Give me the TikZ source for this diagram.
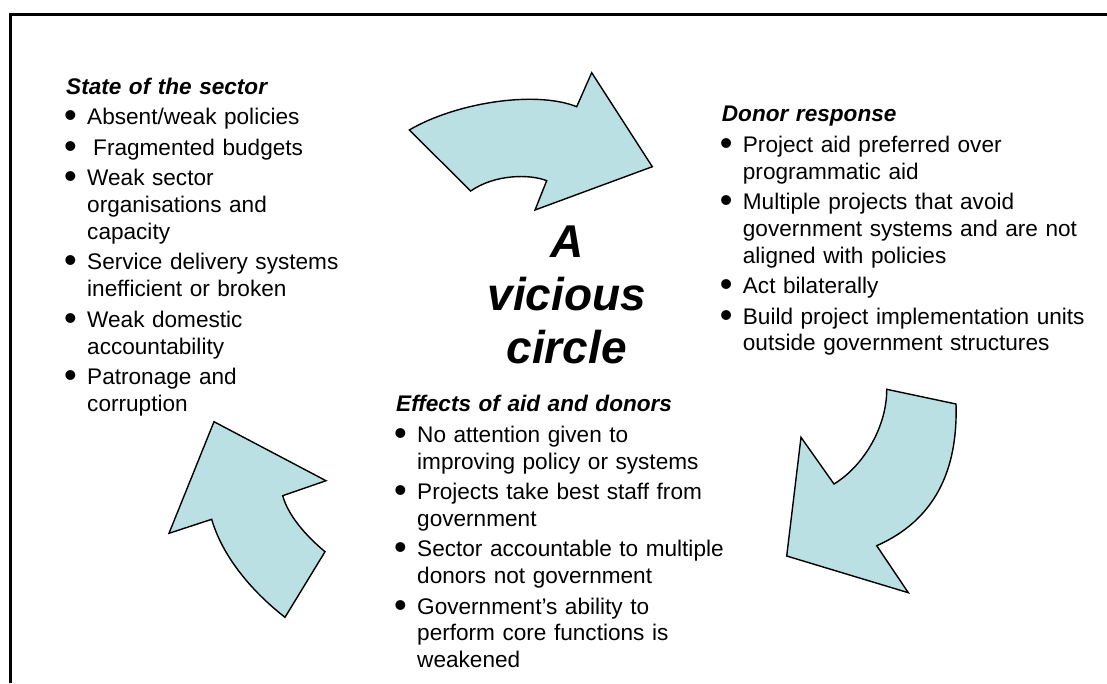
\documentclass[tikz,border=0pt]{standalone}
\usepackage{fontspec}
\setmainfont{Liberation Sans}
\definecolor{arrowfill}{RGB}{186,224,227}
\tikzset{
  bigarrow/.style={fill=arrowfill, draw=black, line width=1.4pt, line join=miter},
  column/.style={anchor=base west, inner sep=0pt, text width=400pt,
    font=\fontsize{22.6}{26.8}\selectfont},
  frameline/.style={line width=3.3pt},
  motto/.style={anchor=base, inner sep=0pt, text width=300pt, align=center,
    font=\fontsize{46}{52.9}\selectfont\bfseries\itshape}
}
\newcommand\hd[1]{\textbf{\textit{#1}}}
\newcommand\bitem[1]{\par\hangindent=21pt\hangafter=1\noindent
  \makebox[21pt][l]{\hspace{-2pt}\raisebox{-3pt}{\scalebox{1.6}{\textbullet}}}#1}
\begin{document}
\begin{tikzpicture}[x=1pt,y=-1pt]
\useasboundingbox (0,0) rectangle (1107,683);
\fill[white] (0,0) rectangle (1107,683);
% frame (cropped on right and bottom)
\draw[frameline] (10.7,683) -- (10.7,14.2) -- (1107,14.2);

% top arrow (left -> right)
\draw[bigarrow] (409.3,130) .. controls (455,103) and (535,90) .. (576.7,106.7)
  -- (591.7,72.7) -- (652.3,166.7) -- (535,210) -- (546.7,180.7)
  .. controls (530,174) and (495,174) .. (470.7,191) -- cycle;

% right arrow (down-left)
\draw[bigarrow] (886.7,389.3) -- (956,404)
  .. controls (958,470) and (935,520) .. (876.7,545.7)
  -- (908.3,592.7) -- (786.7,556) -- (801,437.3) -- (834,484)
  .. controls (865,465) and (887,425) .. cycle;

% left arrow (up)
\draw[bigarrow] (285,617.3) -- (325,551.7)
  .. controls (305,535) and (288,515) .. (282.7,495.7)
  -- (326,480.7) -- (214,421.7) -- (169,533.3) -- (211.7,519.3)
  .. controls (222,555) and (250,590) .. cycle;

% central text
\node[motto] (vc) at (566.7,257.5) {A\\vicious\\circle};

% columns
\node[column] (state) at (66,94.3) {\setlength{\parskip}{3.7pt}%
\hd{State of the sector}%
\bitem{Absent/weak policies}%
\bitem{\hspace{6pt}Fragmented budgets}%
\bitem{Weak sector\newline organisations and\newline capacity}%
\bitem{Service delivery systems\newline inefficient or broken}%
\bitem{Weak domestic\newline accountability}%
\bitem{Patronage and\newline corruption}\par};

\node[column] (donor) at (721.7,121.7) {\setlength{\parskip}{3.7pt}%
\hd{Donor response}%
\bitem{Project aid preferred over\newline programmatic aid}%
\bitem{Multiple projects that avoid\newline government systems and are not\newline aligned with policies}%
\bitem{Act bilaterally}%
\bitem{Build project implementation units\newline outside government structures}\par};

\node[column] (effects) at (396,411.7) {\setlength{\parskip}{3.7pt}%
\hd{Effects of aid and donors}%
\bitem{No attention given to\newline improving policy or systems}%
\bitem{Projects take best staff from\newline government}%
\bitem{Sector accountable to multiple\newline donors not government}%
\bitem{Government’s ability to\newline perform core functions is\newline weakened}\par};
\end{tikzpicture}
\end{document}
